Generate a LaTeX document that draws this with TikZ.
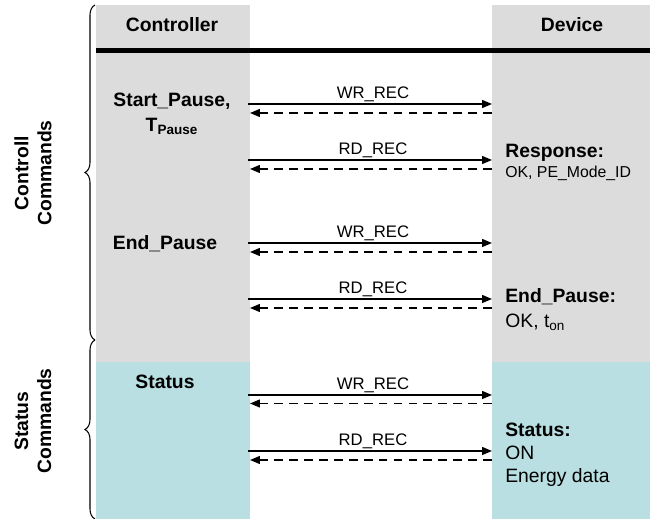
\documentclass[tikz,border=0pt]{standalone}
\usepackage{fontspec}
\setmainfont{Liberation Sans}
\usetikzlibrary{arrows.meta, decorations.pathreplacing}
\definecolor{panelgrey}{HTML}{DCDCDC}
\definecolor{panelteal}{HTML}{B9DFE2}
\tikzstyle{head} = [anchor=base, inner sep=0pt,
font=\fontsize{11}{13}\selectfont\bfseries]
\tikzstyle{cmd} = [anchor=base, inner sep=0pt,
font=\fontsize{11}{13}\selectfont\bfseries]
\tikzstyle{msg} = [anchor=base, inner sep=0pt,
font=\fontsize{9.5}{11}\selectfont]
\tikzstyle{resp} = [anchor=base west, inner sep=0pt,
font=\fontsize{11}{13}\selectfont]
\tikzstyle{group} = [rotate=90, align=center,
font=\fontsize{11}{13}\selectfont\bfseries]
\tikzstyle{arrow} = [line width=0.8pt,-{Triangle[length=0.2cm, width=0.16cm]}]
\tikzstyle{reply} = [line width=0.8pt, dash pattern=on 5pt off 3.5pt,
-{Triangle[length=0.2cm, width=0.16cm]}]
\tikzstyle{curly} = [decorate, decoration={brace, amplitude=0.2cm}, line width=0.6pt]

\begin{document}
\begin{tikzpicture}[x=0.02cm, y=-0.02cm]
\useasboundingbox (0,0) rectangle (650,519);
% panels
\fill[panelgrey] (96,5) rectangle (250,362);
\fill[panelteal] (96,362) rectangle (250,519);
\fill[panelgrey] (492,5) rectangle (650,362);
\fill[panelteal] (492,362) rectangle (650,519);
\draw[line width=2.3pt] (96,50.5) -- (650,50.5);

% headers
\node (ctrl) [head] at (172,32) {Controller};
\node (dev) [head] at (572,32) {Device};

% groups
\draw[curly] (95,340) -- (95,5);
\draw[curly] (95,519) -- (95,340);
\node (ctlgrp) [group] at (33,173) {Controll\\Commands};
\node (stagrp) [group] at (33,421) {Status\\Commands};

% controller side
\node (startp) [cmd] at (172,107) {Start\_Pause,};
\node (tpause) [cmd] at (172,131.5) {T\textsubscript{Pause}};
\node (endp) [cmd] at (165,250) {End\_Pause};
\node (stat) [cmd] at (165,389) {Status};

% device side
\node (resp) [resp, font=\fontsize{11}{13}\selectfont\bfseries] at (505,158) {Response:};
\node (respv) [resp, font=\fontsize{9}{11}\selectfont] at (505,178) {OK, PE\_Mode\_ID};
\node (endr) [resp, font=\fontsize{11}{13}\selectfont\bfseries] at (505,303) {End\_Pause:};
\node (endv) [resp] at (505,328) {OK, t\textsubscript{on}};
\node (statr) [resp, font=\fontsize{11}{13}\selectfont\bfseries] at (505,437) {Status:};
\node (staton) [resp] at (505,460) {ON};
\node (staten) [resp] at (505,483) {Energy data};

% message ends
\coordinate (c1) at (248,104); \coordinate (d1) at (492,104);
\coordinate (c2) at (248,160); \coordinate (d2) at (492,160);
\coordinate (c3) at (248,243); \coordinate (d3) at (492,243);
\coordinate (c4) at (248,299); \coordinate (d4) at (492,299);
\coordinate (c5) at (248,395); \coordinate (d5) at (492,395);
\coordinate (c6) at (248,451); \coordinate (d6) at (492,451);

\node (m1) [msg] at (373,99) {WR\_REC};
\node (m2) [msg] at (373,155) {RD\_REC};
\node (m3) [msg] at (373,238) {WR\_REC};
\node (m4) [msg] at (373,294) {RD\_REC};
\node (m5) [msg] at (373,390) {WR\_REC};
\node (m6) [msg] at (373,446) {RD\_REC};

\draw [arrow] (c1) -- (d1);
\draw [reply] ([yshift=-0.18cm]d1) -- ([yshift=-0.18cm,xshift=0.04cm]c1);
\draw [arrow] (c2) -- (d2);
\draw [reply] ([yshift=-0.18cm]d2) -- ([yshift=-0.18cm,xshift=0.04cm]c2);
\draw [arrow] (c3) -- (d3);
\draw [reply] ([yshift=-0.18cm]d3) -- ([yshift=-0.18cm,xshift=0.04cm]c3);
\draw [arrow] (c4) -- (d4);
\draw [reply] ([yshift=-0.18cm]d4) -- ([yshift=-0.18cm,xshift=0.04cm]c4);
\draw [arrow] (c5) -- (d5);
\draw [reply] ([yshift=-0.17cm]d5) -- ([yshift=-0.17cm,xshift=0.04cm]c5);
\draw [arrow] (c6) -- (d6);
\draw [reply] ([yshift=-0.18cm]d6) -- ([yshift=-0.18cm,xshift=0.04cm]c6);

\end{tikzpicture}
\end{document}
